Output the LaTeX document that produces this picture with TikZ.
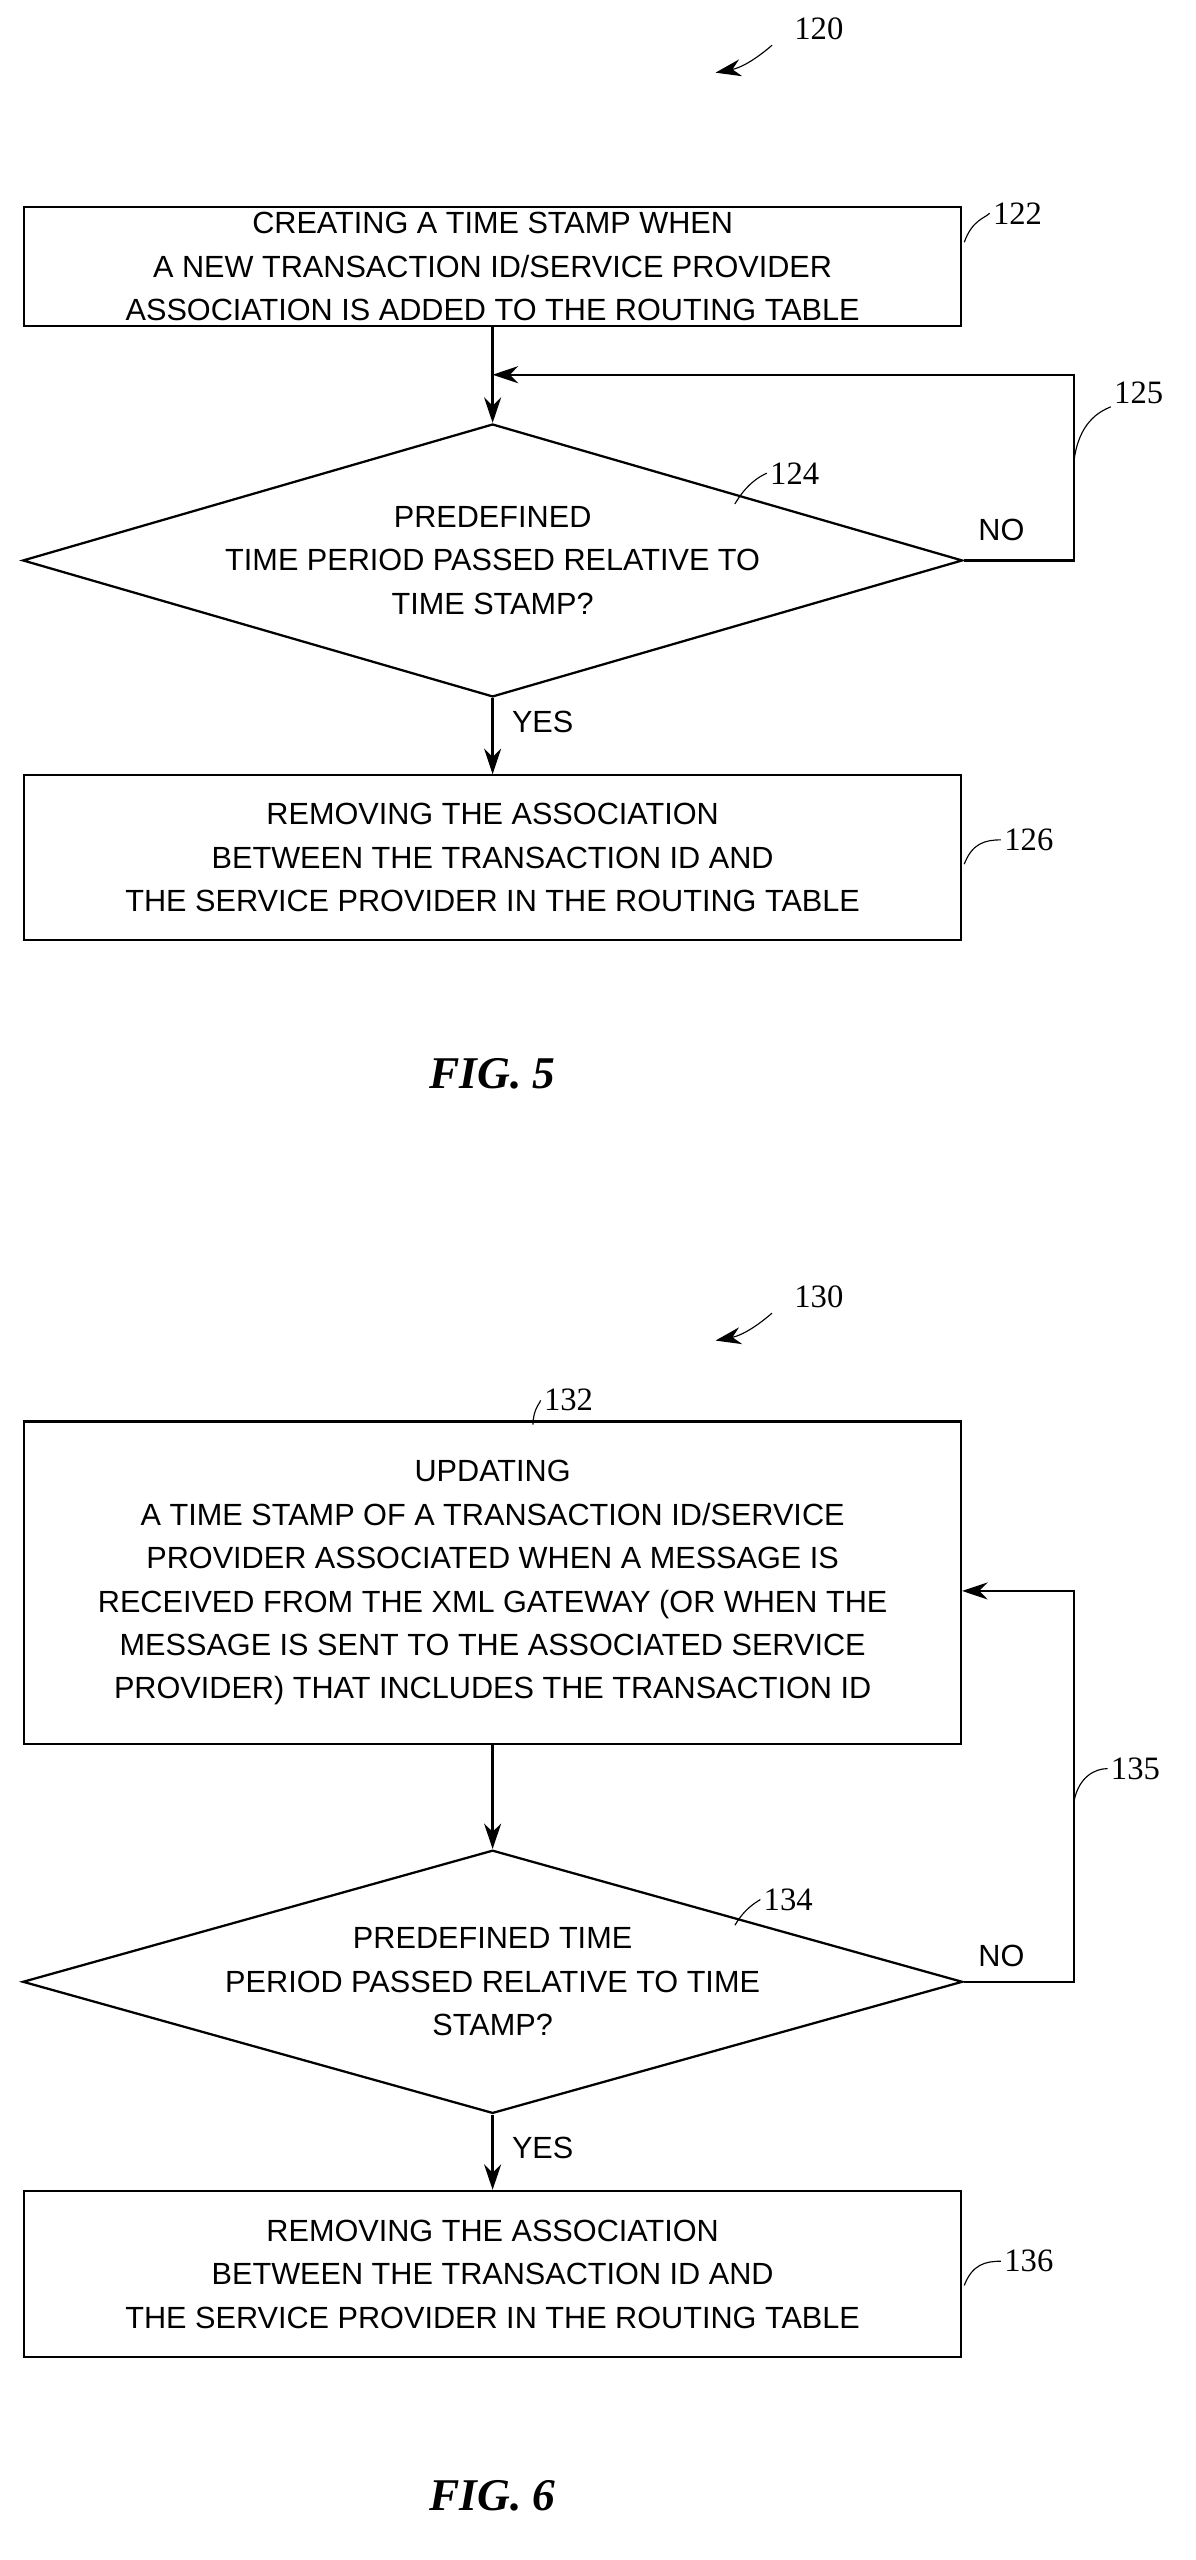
\documentclass[tikz,border=0pt]{standalone}
\usepackage{fontspec}
\setmainfont{Liberation Serif}
\setsansfont{Liberation Sans}
\usetikzlibrary{arrows.meta, positioning, shapes.geometric}

\begin{document}
\begin{tikzpicture}[x=0.02cm,y=-0.02cm,>={Stealth[length=9pt,width=6pt]},
    font=\fontsize{11.5}{15.3}\selectfont]
    \tikzset{action/.style={draw,thick,minimum width=11.6cm,align=center,inner sep=0pt,font=\sffamily\fontsize{10.8}{15.3}\selectfont}}
    \tikzset{test/.style={draw,thick,diamond,aspect=3.45,minimum width=11.64cm,align=center,inner sep=0pt,font=\sffamily\fontsize{10.8}{15.3}\selectfont}}
    \tikzset{ref/.style={inner sep=1pt}}
    \tikzset{flag/.style={inner sep=1pt,font=\sffamily\fontsize{10.8}{13}\selectfont}}
    \tikzset{lead/.style={thin}}
    \useasboundingbox (0,0) rectangle (740,1585);

    % FIG. 5
    \node[ref] (n120) at (507,18) {120};
    \coordinate (t120) at (443,45);
    \draw[->,thin] (478,28) to[bend left=15] (t120);

    \node[action,minimum height=1.48cm] (A0) at (305,165)
        {CREATING A TIME STAMP WHEN\\A NEW TRANSACTION ID/SERVICE PROVIDER\\ASSOCIATION IS ADDED TO THE ROUTING TABLE};
    \node[ref] (n122) at (630,132) {122};
    \draw[lead] (597,150) .. controls (602,136) and (610,135) .. (n122.west);

    \node[test,minimum height=3.38cm] (B0) at (305,347)
        {PREDEFINED\\TIME PERIOD PASSED RELATIVE TO\\TIME STAMP?};
    \node[ref] (n124) at (492,293) {124};
    \draw[lead] (455,312) .. controls (462,300) and (470,295) .. (n124.west);

    \node[action,minimum height=2.04cm] (C0) at (305,531)
        {REMOVING THE ASSOCIATION\\BETWEEN THE TRANSACTION ID AND\\THE SERVICE PROVIDER IN THE ROUTING TABLE};
    \node[ref] (n126) at (637,520) {126};
    \draw[lead] (597,535) .. controls (602,522) and (610,520) .. (n126.west);

    \coordinate (J0) at (305,232);
    \coordinate (K0) at (665,347);
    \coordinate (L0) at (665,232);
    \draw[->,thick] (A0.south) -- (B0.north);
    \draw[->,thick] (B0.east) -- (K0) -- (L0) -- (J0);
    \node[flag] (no0) at (620,328) {NO};
    \node[ref] (n125) at (705,243) {125};
    \draw[lead] (665,285) .. controls (668,262) and (680,255) .. (n125.south west);
    \draw[->,thick] (B0.south) -- (C0.north);
    \node[flag] (yes0) at (336,447) {YES};

    \node (fig5) at (305,665) {\fontsize{16}{18}\selectfont\bfseries\itshape FIG. 5};

    % FIG. 6
    \node[ref] (n130) at (507,803) {130};
    \coordinate (t130) at (443,830);
    \draw[->,thin] (478,813) to[bend left=15] (t130);

    \node[action,minimum height=4cm] (A1) at (305,980)
        {UPDATING\\A TIME STAMP OF A TRANSACTION ID/SERVICE\\PROVIDER ASSOCIATED WHEN A MESSAGE IS\\RECEIVED FROM THE XML GATEWAY (OR WHEN THE\\MESSAGE IS SENT TO THE ASSOCIATED SERVICE\\PROVIDER) THAT INCLUDES THE TRANSACTION ID};
    \node[ref] (n132) at (352,867) {132};
    \draw[lead] (330,882) .. controls (330,872) and (335,868) .. (n132.west);

    \node[test,minimum height=3.22cm] (B1) at (305,1227)
        {PREDEFINED TIME\\PERIOD PASSED RELATIVE TO TIME\\STAMP?};
    \node[ref] (n134) at (488,1176) {134};
    \draw[lead] (455,1192) .. controls (462,1180) and (470,1177) .. (n134.west);

    \node[action,minimum height=2.06cm] (C1) at (305,1408)
        {REMOVING THE ASSOCIATION\\BETWEEN THE TRANSACTION ID AND\\THE SERVICE PROVIDER IN THE ROUTING TABLE};
    \node[ref] (n136) at (637,1400) {136};
    \draw[lead] (597,1415) .. controls (602,1402) and (610,1400) .. (n136.west);

    \coordinate (K1) at (665,1227);
    \coordinate (L1) at (665,985);
    \draw[->,thick] (A1.south) -- (B1.north);
    \draw[->,thick] (B1.east) -- (K1) -- (L1) -- (A1.east |- L1);
    \node[flag] (no1) at (620,1211) {NO};
    \node[ref] (n135) at (703,1095) {135};
    \draw[lead] (665,1115) .. controls (668,1100) and (678,1095) .. (n135.west);
    \draw[->,thick] (B1.south) -- (C1.north);
    \node[flag] (yes1) at (336,1330) {YES};

    \node (fig6) at (305,1545) {\fontsize{16}{18}\selectfont\bfseries\itshape FIG. 6};
\end{tikzpicture}
\end{document}
